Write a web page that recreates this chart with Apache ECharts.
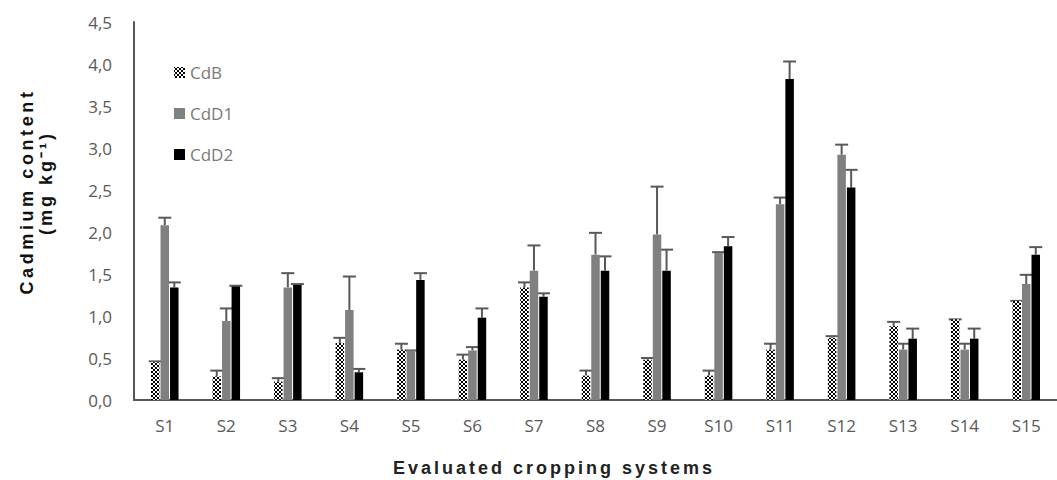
<!DOCTYPE html>
<html>
<head>
<meta charset="utf-8">
<script src="https://cdn.jsdelivr.net/npm/echarts@6/dist/echarts.min.js"></script>
<style>
html,body{margin:0;padding:0;background:#fff;}
#chart{width:1057px;height:480px;}
</style>
</head>
<body>
<div id="chart"></div>
<script>
// ---- data ----
var categories = ['S1','S2','S3','S4','S5','S6','S7','S8','S9','S10','S11','S12','S13','S14','S15'];
var seriesNames = ['CdB','CdD1','CdD2'];
var cdB    = [0.45,0.28,0.22,0.68,0.60,0.48,1.34,0.29,0.48,0.29,0.60,0.74,0.88,0.96,1.18];
var cdB_err  = [0.01,0.07,0.04,0.06,0.07,0.06,0.06,0.06,0.02,0.06,0.07,0.02,0.05,0.00,0.00];
var cdD1   = [2.08,0.94,1.34,1.07,0.59,0.59,1.54,1.73,1.97,1.75,2.33,2.92,0.60,0.60,1.38];
var cdD1_err = [0.09,0.15,0.17,0.40,0.00,0.04,0.30,0.26,0.57,0.01,0.08,0.12,0.07,0.07,0.11];
var cdD2   = [1.34,1.35,1.37,0.33,1.43,0.98,1.23,1.54,1.54,1.83,3.82,2.53,0.73,0.73,1.73];
var cdD2_err = [0.06,0.01,0.01,0.04,0.08,0.11,0.04,0.17,0.25,0.11,0.21,0.21,0.12,0.12,0.09];
var yTickLabels = ['0,0','0,5','1,0','1,5','2,0','2,5','3,0','3,5','4,0','4,5'];
var yTitle1 = 'Cadmium content';
var yTitle2 = '(mg kg\u207B\u00B9)';
var xTitle = 'Evaluated cropping systems';

// ---- pattern for CdB ----
var pc = document.createElement('canvas');
pc.width = 4; pc.height = 4;
var pctx = pc.getContext('2d');
pctx.fillStyle = '#ffffff'; pctx.fillRect(0,0,4,4);
pctx.fillStyle = '#000000';
[[0,0],[3,0],[1,1],[2,1],[1,2],[2,2],[0,3],[3,3]].forEach(function(p){ pctx.fillRect(p[0],p[1],1,1); });
var cdBPattern = { image: pc, repeat: 'repeat' };

var BAR_W = 8.5, BAR_GAP = 0.12;
var means = [cdB, cdD1, cdD2];
var errs = [cdB_err, cdD1_err, cdD2_err];

function errSeries(k) {
  var data = categories.map(function(c, i){ return [i, means[k][i], means[k][i] + errs[k][i]]; });
  return {
    type: 'custom',
    name: seriesNames[k] + ' err',
    data: data,
    z: 1,
    silent: true,
    renderItem: function(params, api) {
      var i = api.value(0);
      var p1 = api.coord([i, api.value(1)]);
      var p2 = api.coord([i, api.value(2)]);
      var total = 3 * BAR_W + 2 * BAR_W * BAR_GAP;
      var x = p1[0] - total / 2 + k * BAR_W * (1 + BAR_GAP) + BAR_W / 2;
      var st = { stroke: '#595959', lineWidth: 2 };
      return {
        type: 'group',
        children: [
          { type: 'line', shape: { x1: x, y1: p1[1], x2: x, y2: p2[1] }, style: st },
          { type: 'line', shape: { x1: x - 6.5, y1: p2[1], x2: x + 6.5, y2: p2[1] }, style: st }
        ]
      };
    }
  };
}

var spacing = {};
spacing[yTitle1] = 3.6;
spacing[yTitle2] = 3.0;
spacing[xTitle] = 3.0;

var chart = echarts.init(document.getElementById('chart'), null, { renderer: 'svg' });
var titleFont = 'bold 18px "Liberation Sans", Arial, sans-serif';
var option = {
  animation: false,
  backgroundColor: '#ffffff',
  grid: { left: 134, width: 934, top: 22, bottom: 80, containLabel: false },
  legend: {
    data: seriesNames,
    orient: 'vertical',
    left: 169,
    top: 59,
    itemWidth: 11,
    itemHeight: 11,
    itemGap: 24,
    icon: 'rect',
    textStyle: { color: '#7a7a7a', fontSize: 17, fontFamily: 'Open Sans' }
  },
  xAxis: {
    type: 'category',
    data: categories,
    axisLine: { lineStyle: { color: '#595959', width: 2 } },
    axisTick: { show: false },
    axisLabel: { color: '#595959', fontSize: 17, fontFamily: 'Open Sans', margin: 17 }
  },
  yAxis: {
    type: 'value',
    min: 0, max: 4.5, interval: 0.5,
    splitLine: { show: false },
    axisLine: { show: true, lineStyle: { color: '#595959', width: 2 } },
    axisTick: { show: false },
    axisLabel: {
      color: '#595959', fontSize: 17, fontFamily: 'Open Sans', margin: 22,
      formatter: function(v){ return yTickLabels[Math.round(v / 0.5)]; }
    }
  },
  graphic: [
    {
      type: 'text', x: 27, y: 191.5, rotation: Math.PI / 2,
      style: { text: yTitle1, font: titleFont, fill: '#111', align: 'center', verticalAlign: 'middle' }
    },
    {
      type: 'text', x: 46, y: 183, rotation: Math.PI / 2,
      style: { text: yTitle2, font: titleFont, fill: '#111', align: 'center', verticalAlign: 'middle' }
    },
    {
      type: 'text', x: 554, y: 468,
      style: { text: xTitle, font: titleFont, fill: '#222', align: 'center', verticalAlign: 'middle' }
    }
  ],
  series: [
    { type: 'bar', name: 'CdB', data: cdB, barWidth: BAR_W, barGap: (BAR_GAP * 100) + '%', itemStyle: { color: cdBPattern }, z: 2 },
    { type: 'bar', name: 'CdD1', data: cdD1, barWidth: BAR_W, barGap: (BAR_GAP * 100) + '%', itemStyle: { color: '#808080' }, z: 2 },
    { type: 'bar', name: 'CdD2', data: cdD2, barWidth: BAR_W, barGap: (BAR_GAP * 100) + '%', itemStyle: { color: '#000000' }, z: 2 },
    errSeries(0), errSeries(1), errSeries(2)
  ]
};

function applySpacing() {
  var texts = document.querySelectorAll('#chart svg text');
  for (var i = 0; i < texts.length; i++) {
    var s = spacing[texts[i].textContent];
    if (s) texts[i].setAttribute('letter-spacing', s);
  }
}
chart.on('finished', applySpacing);
chart.setOption(option);
applySpacing();
setTimeout(applySpacing, 0);
setTimeout(applySpacing, 50);
</script>
</body>
</html>
